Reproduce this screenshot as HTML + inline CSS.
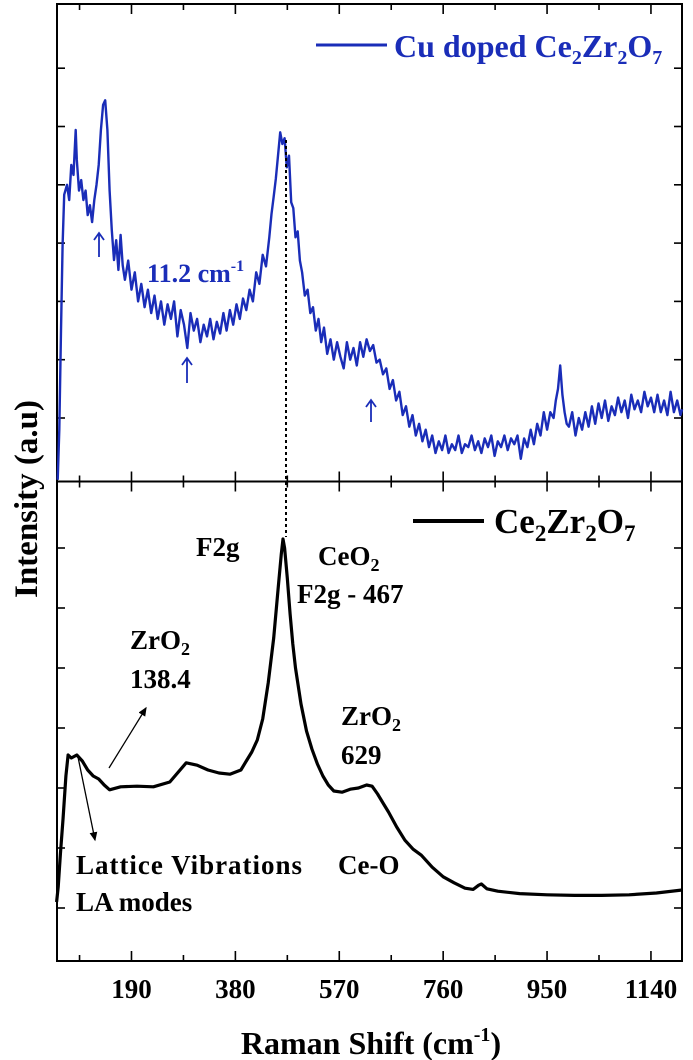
<!DOCTYPE html>
<html><head><meta charset="utf-8"><style>
html,body{margin:0;padding:0;background:#fff;}
svg{display:block;font-family:"Liberation Serif",serif;font-weight:bold;}
</style></head><body>
<svg id="chart" width="693" height="1060" viewBox="0 0 693 1060">
<g id="frames"></g>
<g id="ticks"></g>
<g id="series"></g>
<g id="labels"></g>
</svg>
<script>
const topWn=[55,58,61,64,67,72,76,80,84,88,
90,94,98,102,106,110,114,118,122,126,
130,134,138,142,146,150,154,158,162,166,
170,174,178,184,190,196,202,208,214,220,
226,232,238,244,250,256,262,268,274,280,
286,292,298,304,310,316,322,328,334,340,
346,352,358,364,370,376,382,388,394,400,
406,412,418,424,430,436,442,446,450,454,
458,462,466,470,474,478,482,486,490,494,
498,502,507,512,517,522,527,532,537,542,
548,554,560,566,572,578,584,590,596,602,
608,614,620,626,632,638,644,650,656,662,
668,674,680,686,692,698,704,710,716,722,
728,734,740,746,752,758,764,770,776,782,
788,794,800,806,812,818,824,830,836,842,
848,854,860,866,872,878,884,890,896,902,
908,914,920,926,932,938,944,950,956,962,
966,970,974,978,982,986,990,996,1002,1008,
1014,1020,1026,1032,1038,1044,1050,1056,1062,1068,
1074,1080,1086,1092,1098,1104,1110,1116,1122,1128,
1134,1140,1146,1152,1158,1164,1170,1176,1182,1188,
1194,1197];
const topVal=[-1.06,-0.2,1.5,2.97,3.83,4.0,3.74,4.34,4.17,4.94,
4.43,3.9,4.08,3.74,3.9,3.48,3.65,3.36,3.74,4.0,
4.34,4.94,5.37,5.45,4.94,3.9,3.22,2.71,3.05,2.54,
3.14,2.62,2.37,2.7,2.2,2.5,2.0,2.3,1.9,2.2,
1.8,2.1,1.7,2.0,1.6,1.95,1.7,2.0,1.4,1.85,
1.6,1.2,1.8,1.5,1.7,1.3,1.6,1.4,1.7,1.35,
1.65,1.45,1.8,1.5,1.85,1.6,1.95,1.7,2.05,1.85,
2.2,2.0,2.5,2.3,2.8,2.6,3.1,3.5,3.8,4.1,
4.5,4.9,4.7,4.8,4.3,4.5,3.7,3.6,3.1,3.2,
2.7,2.5,2.1,2.2,1.8,1.9,1.5,1.7,1.3,1.55,
1.1,1.35,1.0,1.3,1.05,0.85,1.3,1.0,1.2,0.9,
1.3,1.05,1.35,1.15,1.25,0.95,1.0,0.75,0.85,0.5,
0.65,0.3,0.45,0.05,0.2,-0.15,0.05,-0.3,-0.1,-0.4,
-0.2,-0.5,-0.3,-0.6,-0.4,-0.55,-0.3,-0.6,-0.45,-0.55,
-0.3,-0.6,-0.45,-0.5,-0.3,-0.55,-0.4,-0.6,-0.35,-0.5,
-0.3,-0.65,-0.4,-0.5,-0.3,-0.55,-0.35,-0.45,-0.3,-0.7,
-0.35,-0.5,-0.2,-0.45,-0.1,-0.3,0.1,-0.2,0.1,0.0,
0.3,0.5,0.9,0.4,0.1,-0.1,-0.15,0.1,-0.3,0.0,
-0.2,0.1,-0.15,0.2,-0.1,0.25,0.0,0.3,-0.05,0.2,
0.05,0.35,0.1,0.3,0.0,0.4,0.15,0.3,0.1,0.45,
0.2,0.35,0.1,0.4,0.1,0.3,0.05,0.45,0.1,0.3,
0.05,0.15];
const botWn=[53,56,60,65,70,74,80,90,100,110,120,130,140,150,170,200,230,260,290,310,330,350,370,390,400,410,420,430,440,450,458,464,467,470,475,480,485,490,500,510,520,530,540,550,560,575,590,605,620,630,640,650,660,675,690,705,720,740,760,780,800,815,825,830,840,860,900,950,1000,1050,1100,1150,1197];
const botVal=[0.1,0.35,0.9,1.5,2.2,2.55,2.5,2.55,2.45,2.3,2.2,2.15,2.05,1.97,2.02,2.03,2.02,2.1,2.42,2.38,2.3,2.25,2.23,2.3,2.45,2.6,2.8,3.15,3.75,4.5,5.3,5.9,6.15,6.0,5.5,4.9,4.4,4.0,3.4,2.95,2.65,2.4,2.2,2.05,1.95,1.93,1.98,2.0,2.05,2.03,1.9,1.75,1.6,1.35,1.13,0.98,0.88,0.68,0.52,0.42,0.33,0.31,0.38,0.4,0.32,0.28,0.24,0.22,0.21,0.21,0.22,0.25,0.3];
const xTickVals=[95,190,285,380,475,570,665,760,855,950,1045,1140];
const xTickLabels=["190","380","570","760","950","1140"];

const NS="http://www.w3.org/2000/svg";
const L=57,R=682,T=4,M=481.5,B=961;
const xs=v=>27.6+v*0.5468;
const yTop=v=>418-v*58.3;
const yBot=v=>908-v*60;
function mk(tag,attrs,parent){const e=document.createElementNS(NS,tag);for(const k in attrs)e.setAttribute(k,attrs[k]);document.getElementById(parent).appendChild(e);return e;}

let f=mk('rect',{x:L,y:T,width:R-L,height:M-T,fill:'none',stroke:'#000','stroke-width':2},'frames');


f=mk('rect',{x:L,y:M,width:R-L,height:B-M,fill:'none',stroke:'#000','stroke-width':2},'frames');



xTickVals.forEach((v,i)=>{
  const x=xs(v),len=(i%2===1)?10:6;
  [[T,1],[M,-1],[M,1],[B,-1]].forEach(([y,d])=>{
    const t=mk('line',{x1:x,x2:x,y1:y,y2:y+d*len,stroke:'#000','stroke-width':1.6},'ticks');
    
    
  });
});
xTickLabels.forEach((s,i)=>{
  const t=mk('text',{x:xs(xTickVals[i*2+1]),y:998,'text-anchor':'middle','font-size':27},'labels');
  t.textContent=s;
  
  
});
for(let k=0;k<=6;k++){
  [yTop(k),yBot(k)].forEach(y=>{
    [[L,1],[R,-1]].forEach(([x,d])=>{
      const t=mk('line',{x1:x,x2:x+d*8,y1:y,y2:y,stroke:'#000','stroke-width':1.6},'ticks');
      
      
    });
  });
}

let d=topWn.map((w,i)=>(i?'L':'M')+xs(w).toFixed(1)+','+yTop(topVal[i]).toFixed(1)).join('');
let p=mk('path',{d:d,fill:'none',stroke:'#1a2db8','stroke-width':2.4,'stroke-linejoin':'round'},'series');


d=botWn.map((w,i)=>(i?'L':'M')+xs(w).toFixed(1)+','+yBot(botVal[i]).toFixed(1)).join('');
p=mk('path',{d:d,fill:'none',stroke:'#000','stroke-width':3.2,'stroke-linejoin':'round'},'series');


p=mk('line',{x1:286,x2:286,y1:140,y2:537,stroke:'#000','stroke-width':2,'stroke-dasharray':'3,3'},'series');


</script>
<svg style="position:absolute;left:0;top:0" width="693" height="1060">
<defs><marker id="ah" markerWidth="8" markerHeight="8" refX="6" refY="3" orient="auto"><path d="M0,0 L7,3 L0,6 z" fill="#000"/></marker></defs>
<g font-family="Liberation Serif,serif" font-weight="bold">
<line x1="316" y1="45" x2="387" y2="45" stroke="#1a2db8" stroke-width="3"/>
<text x="394" y="57" font-size="32" fill="#1a2db8">Cu doped Ce<tspan font-size="20" dy="7">2</tspan><tspan dy="-7">Zr</tspan><tspan font-size="20" dy="7">2</tspan><tspan dy="-7">O</tspan><tspan font-size="20" dy="7">7</tspan></text>
<line x1="413" y1="521" x2="484" y2="521" stroke="#000" stroke-width="4"/>
<text x="494" y="533" font-size="35" fill="#000">Ce<tspan font-size="23" dy="8">2</tspan><tspan dy="-8">Zr</tspan><tspan font-size="23" dy="8">2</tspan><tspan dy="-8">O</tspan><tspan font-size="23" dy="8">7</tspan></text>
<text x="147" y="282" font-size="26" fill="#1a2db8">11.2 cm<tspan font-size="16" dy="-11">-1</tspan></text>
<g stroke="#1a2db8" stroke-width="1.8" fill="none">
<path d="M99,257 V234 M94,240 L99,233 L104,240"/>
<path d="M187,383 V359 M182,365 L187,358 L192,365"/>
<path d="M371,422 V401 M366,407 L371,400 L376,407"/>
</g>
<g font-size="27" fill="#000">
<text x="196" y="556">F2g</text>
<text x="318" y="565">CeO<tspan font-size="18" dy="6">2</tspan></text>
<text x="297" y="603">F2g - 467</text>
<text x="130" y="649">ZrO<tspan font-size="18" dy="6">2</tspan></text>
<text x="130" y="688">138.4</text>
<text x="341" y="725">ZrO<tspan font-size="18" dy="6">2</tspan></text>
<text x="341" y="764">629</text>
<text x="338" y="874">Ce-O</text>
<text x="76" y="874" textLength="226">Lattice Vibrations</text>
<text x="76" y="911">LA modes</text>
</g>
<line x1="109" y1="768" x2="146" y2="708" stroke="#000" stroke-width="1.3" marker-end="url(#ah)"/>
<line x1="78" y1="757" x2="95" y2="840" stroke="#000" stroke-width="1.3" marker-end="url(#ah)"/>
<text x="371" y="1054" text-anchor="middle" font-size="32">Raman Shift (cm<tspan font-size="20" dy="-13">-1</tspan><tspan dy="13">)</tspan></text>
<text transform="translate(37,499) rotate(-90)" text-anchor="middle" font-size="33">Intensity (a.u)</text>
</g>
</svg>
</body></html>
